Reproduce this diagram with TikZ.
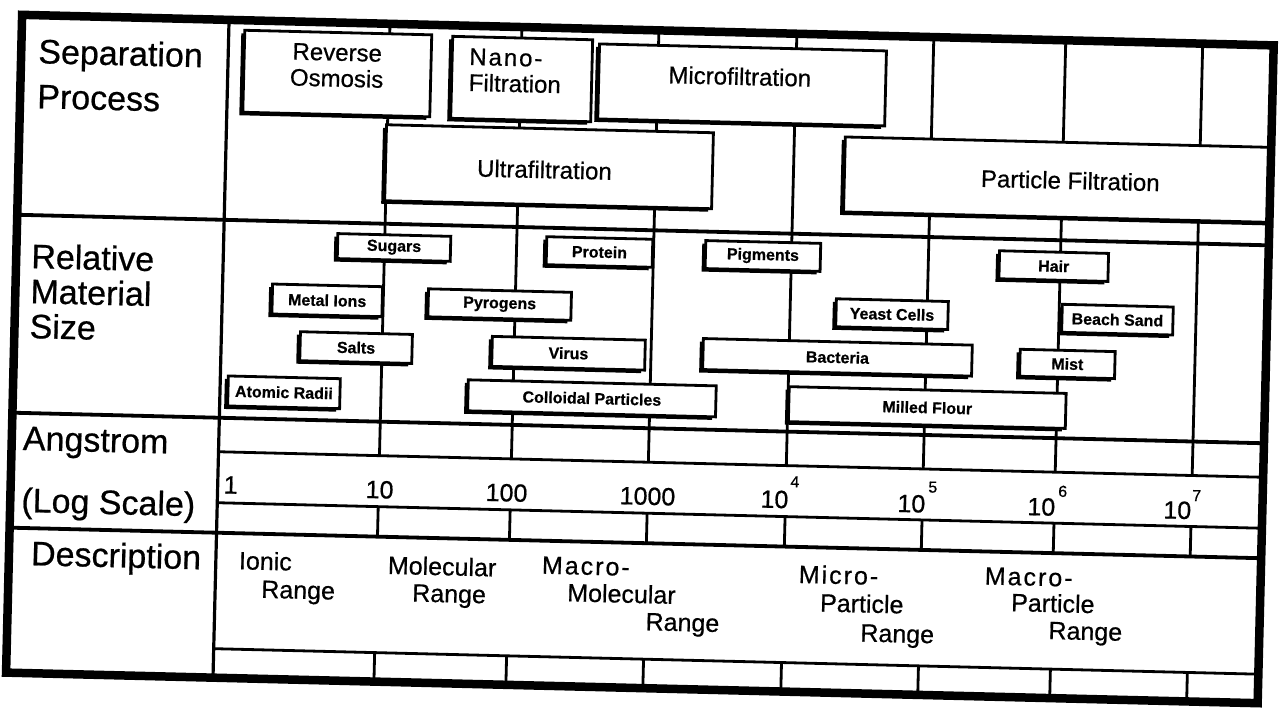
\documentclass[tikz,border=0pt]{standalone}
\usepackage{fontspec}
\setmainfont{Liberation Sans}[FakeBold=0.6]
\newfontfamily\spacedfont{Liberation Sans}[LetterSpace=8,FakeBold=0.6]
\usetikzlibrary{shadows}
\newcommand\mbx[6]{\node[mbox, minimum width={(#4-#2)*1pt}, minimum height={(#5-#3)*1pt}] (#1) at ({(#2+#4)/2},{(#3+#5)/2}) {#6};}
\newcommand\sbx[5]{\node[sbox, minimum width={(#4-#2)*1pt}, minimum height={(#5-#3)*1pt}] (#1) at ({(#2+#4)/2},{(#3+#5)/2}) {};}
\begin{document}
\begin{tikzpicture}[x=1pt,y=-1pt,
  grid/.style={line width=2.8pt},
  rowline/.style={line width=3.8pt},
  frameline/.style={line width=8.5pt},
  sbox/.style={draw, line width=2.8pt, fill=white, inner sep=0pt,
    general shadow={fill=black, shadow xshift=-3.5pt, shadow yshift=-3pt}},
  mbox/.style={sbox, font=\fontsize{16}{18}\selectfont\bfseries},
  boxtext/.style={font=\fontsize{24}{26}\selectfont, inner sep=0pt},
  lab/.style={font=\fontsize{34}{40}\selectfont, anchor=base west, inner sep=0pt},
  num/.style={font=\fontsize{25}{28}\selectfont, inner sep=0pt},
  sup/.style={font=\fontsize{16}{18}\selectfont, inner sep=0pt},
  desc/.style={font=\fontsize{25}{28}\selectfont, anchor=base west, inner sep=0pt},
  descsp/.style={font=\fontsize{25}{28}\spacedfont, anchor=base west, inner sep=0pt}
]
\useasboundingbox (0,0) rectangle (1280,707);
\fill[white] (0,0) rectangle (1280,707);
\begin{scope}[rotate around={-1.4:(640,354)}, every node/.append style={transform shape}]
% vertical grid lines
\draw[grid, line width=3.2pt] (221,30) -- (221,688);
\foreach \v in {382,514,651,789,926,1058,1195} {
  \draw[grid] (\v,30) -- (\v,462);
  \draw[grid] (\v,513) -- (\v,543);
  \draw[grid] (\v,659) -- (\v,688);
}
% separation process boxes
\sbx{ro}{237}{40}{424}{122}
\sbx{nano}{445}{41}{585}{123}
\sbx{micro}{592}{45}{879}{120}
\sbx{ultra}{381}{131}{708}{207}
\sbx{pf}{840}{132}{1266}{207}
\node[boxtext, align=center] (rot) at (330,73) {Reverse\\Osmosis};
\node[boxtext, align=left, anchor=west, font=\fontsize{24}{26}\spacedfont] (nanot) at (462,74) {Nano-\\{\fontsize{24}{26}\normalfont Filtration}};
\node[boxtext] (microt) at (733,74) {Microfiltration};
\node[boxtext] (ultrat) at (540,172) {Ultrafiltration};
\node[boxtext] (pft) at (1066,170) {Particle Filtration};
% material boxes
\mbx{sugars}{335}{241}{448}{266}{Sugars}
\mbx{protein}{544}{239}{650}{267}{Protein}
\mbx{pigments}{703}{239}{818}{267}{Pigments}
\mbx{metal}{271}{293}{381}{323}{Metal Ions}
\mbx{pyrogens}{427}{294}{570}{322}{Pyrogens}
\mbx{salts}{300}{340}{412}{369}{Salts}
\mbx{virus}{492}{340}{645}{370}{Virus}
\mbx{atomic}{229}{386}{341}{416}{Atomic Radii}
\mbx{colloidal}{469}{384}{717}{415}{Colloidal Particles}
\mbx{hair}{997}{242}{1106}{270}{Hair}
\mbx{yeast}{835}{294}{947}{322}{Yeast Cells}
\mbx{beach}{1061}{294}{1172}{322}{Beach Sand}
\mbx{bacteria}{703}{337}{972}{368}{Bacteria}
\mbx{mist}{1020}{340}{1115}{367}{Mist}
\mbx{milled}{790}{383}{1067}{418}{Milled Flour}
% horizontal lines
\draw[rowline] (14,230) -- (1266,230);
\draw[rowline] (14,428) -- (1266,428);
\draw[grid] (221,462) -- (1266,462);
\draw[grid] (221,513) -- (1266,513);
\draw[rowline] (14,543) -- (1266,543);
\draw[grid] (221,659) -- (1266,659);
\draw[frameline] (14,30) rectangle (1266,688);
% row labels
\node[lab] (l1) at (31,78) {Separation};
\node[lab] (l2) at (31,123) {Process};
\node[lab] (l3) at (29,283) {Relative};
\node[lab] (l4) at (29,318) {Material};
\node[lab] (l5) at (29,353) {Size};
\node[lab] (l6) at (25,465) {Angstrom};
\node[lab] (l7) at (25,527) {(Log Scale)};
\node[lab] (l8) at (36,580) {Description};
% scale numbers
\node[num] (n0) at (234,495) {1};
\node[num] (n1) at (383,496) {10};
\node[num] (n2) at (510,496) {100};
\node[num] (n3) at (651,496) {1000};
\node[num] (n4) at (778,496) {10};
\node[sup] (s4) at (798,478) {4};
\node[num] (n5) at (915,497) {10};
\node[sup] (s5) at (936,480) {5};
\node[num] (n6) at (1045,497) {10};
\node[sup] (s6) at (1066,481) {6};
\node[num] (n7) at (1181,497) {10};
\node[sup] (s7) at (1200,482) {7};
% descriptions
\node[desc] (d1a) at (244,579) {Ionic};
\node[desc] (d1b) at (267,607) {Range};
\node[desc] (d2a) at (393,580) {Molecular};
\node[desc] (d2b) at (418,607) {Range};
\node[descsp] (d3a) at (547,576) {Macro-};
\node[desc] (d3b) at (573,603) {Molecular};
\node[desc] (d3c) at (652,630) {Range};
\node[descsp] (d4a) at (804,579) {Micro-};
\node[desc] (d4b) at (826,607) {Particle};
\node[desc] (d4c) at (867,636) {Range};
\node[descsp] (d5a) at (990,576) {Macro-};
\node[desc] (d5b) at (1017,602) {Particle};
\node[desc] (d5c) at (1055,629) {Range};
\end{scope}
\end{tikzpicture}
\end{document}
